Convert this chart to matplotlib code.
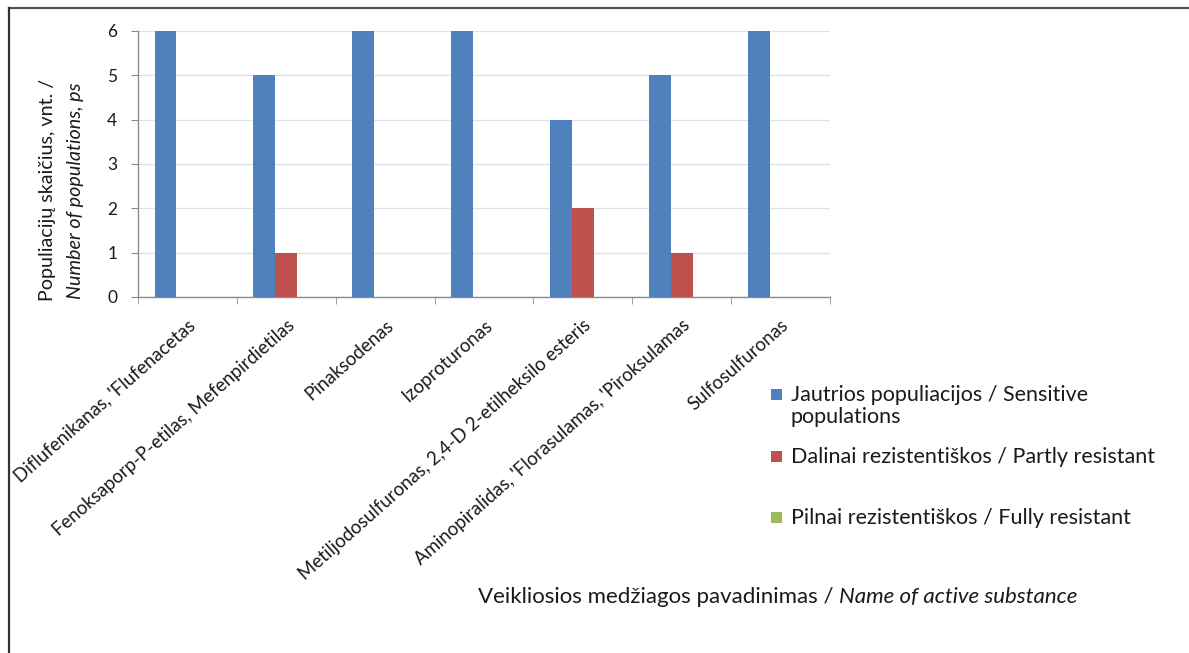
import matplotlib
matplotlib.use("Agg")
import matplotlib.pyplot as plt
import matplotlib.transforms as mtransforms
from matplotlib.patches import Rectangle
from matplotlib.lines import Line2D
import numpy as np

plt.rcParams['font.family'] = ['Lato', 'DejaVu Sans']

categories = [
    "Diflufenikanas, 'Flufenacetas",
    "Fenoksaporp-P-etilas, Mefenpirdietilas",
    "Pinaksodenas",
    "Izoproturonas",
    "Metiljodosulfuronas, 2,4-D 2-etilheksilo esteris",
    "Aminopiralidas, 'Florasulamas, 'Piroksulamas",
    "Sulfosulfuronas",
]
sensitive = [6, 5, 6, 6, 4, 5, 6]
partly_resistant = [0, 1, 0, 0, 2, 1, 0]
fully_resistant = [0, 0, 0, 0, 0, 0, 0]

series_names = [
    "Jautrios populiacijos / Sensitive\npopulations",
    "Dalinai rezistentiškos / Partly resistant",
    "Pilnai rezistentiškos / Fully resistant",
]
series_colors = ["#4F81BD", "#C0504D", "#9BBB59"]
y_ticks = [0, 1, 2, 3, 4, 5, 6]

TXT = "#1a1a1a"
W, H = 1189, 653
fig = plt.figure(figsize=(W / 100, H / 100), dpi=100)
fig.patch.set_facecolor("white")

# outer frame (top and left edges visible)
fig.add_artist(Line2D([9 / W, 1.0], [1 - 8 / H, 1 - 8 / H], transform=fig.transFigure,
                      color="#555555", lw=1.6))
fig.add_artist(Line2D([9 / W, 9 / W], [0, 1 - 8 / H], transform=fig.transFigure,
                      color="#333333", lw=1.6))

ax_l, ax_r, ax_t, ax_b = 138, 830, 31, 297
ax = fig.add_axes([ax_l / W, 1 - ax_b / H, (ax_r - ax_l) / W, (ax_b - ax_t) / H])

x = np.arange(len(categories))
bw = 0.222
all_series = [sensitive, partly_resistant, fully_resistant]
for k, (vals, col) in enumerate(zip(all_series, series_colors)):
    ax.bar(x + (k - 1) * bw, vals, width=bw, color=col, edgecolor="none", zorder=3)

ax.set_xlim(-0.5, len(categories) - 0.5)
ax.set_ylim(0, 6)
ax.set_yticks(y_ticks)
ax.yaxis.grid(True, color="#D9E2EE", lw=1.0, zorder=0)
ax.set_axisbelow(True)

for s in ["top", "right"]:
    ax.spines[s].set_visible(False)
for s in ["left", "bottom"]:
    ax.spines[s].set_color("#8C8C8C")
    ax.spines[s].set_linewidth(1.0)

ax.set_xticks(x)
ax.set_xticklabels(categories, rotation=41.5, ha="right", va="top", rotation_mode="anchor",
                   fontsize=13.4, color=TXT)
shift = mtransforms.ScaledTranslation(5 / 100, 0, fig.dpi_scale_trans)
for lab in ax.get_xticklabels():
    lab.set_transform(lab.get_transform() + shift)
ax.set_xticks(np.arange(-0.5, len(categories)), minor=True)
ax.tick_params(axis="x", which="major", length=0, pad=14)
ax.tick_params(axis="x", which="minor", length=5, color="#8C8C8C", direction="out")
ax.tick_params(axis="y", length=5, color="#8C8C8C", labelsize=12.5, pad=10, labelcolor=TXT)

# y axis title in two lines, second italic
fig.text(48 / W, 1 - 190 / H, "Populiacijų skaičius, vnt. /", rotation=90,
         ha="center", va="center", fontsize=14.2, color=TXT)
fig.text(76 / W, 1 - 191 / H, "Number of populations, ps", rotation=90,
         ha="center", va="center", fontsize=14.2, style="italic", color=TXT)

# x axis title, second part italic
t1 = fig.text(478 / W, 1 - 597 / H, "Veikliosios medžiagos pavadinimas / ",
              ha="left", va="center", fontsize=16, color=TXT)
ax.annotate("Name of active substance", xy=(1, 0), xycoords=t1, ha="left", va="bottom",
            fontsize=16, style="italic", color=TXT)

# legend
leg_y = [394, 456, 517]
for name, col, yy in zip(series_names, series_colors, leg_y):
    fig.add_artist(Rectangle((771 / W, 1 - (yy + 5.5) / H), 11 / W, 11 / H,
                             transform=fig.transFigure, facecolor=col, edgecolor="none"))
    fig.text(791 / W, 1 - (yy - 9) / H, name, ha="left", va="top", fontsize=15.5,
             color=TXT, linespacing=1.12)

fig.savefig("out.png", dpi=100)
